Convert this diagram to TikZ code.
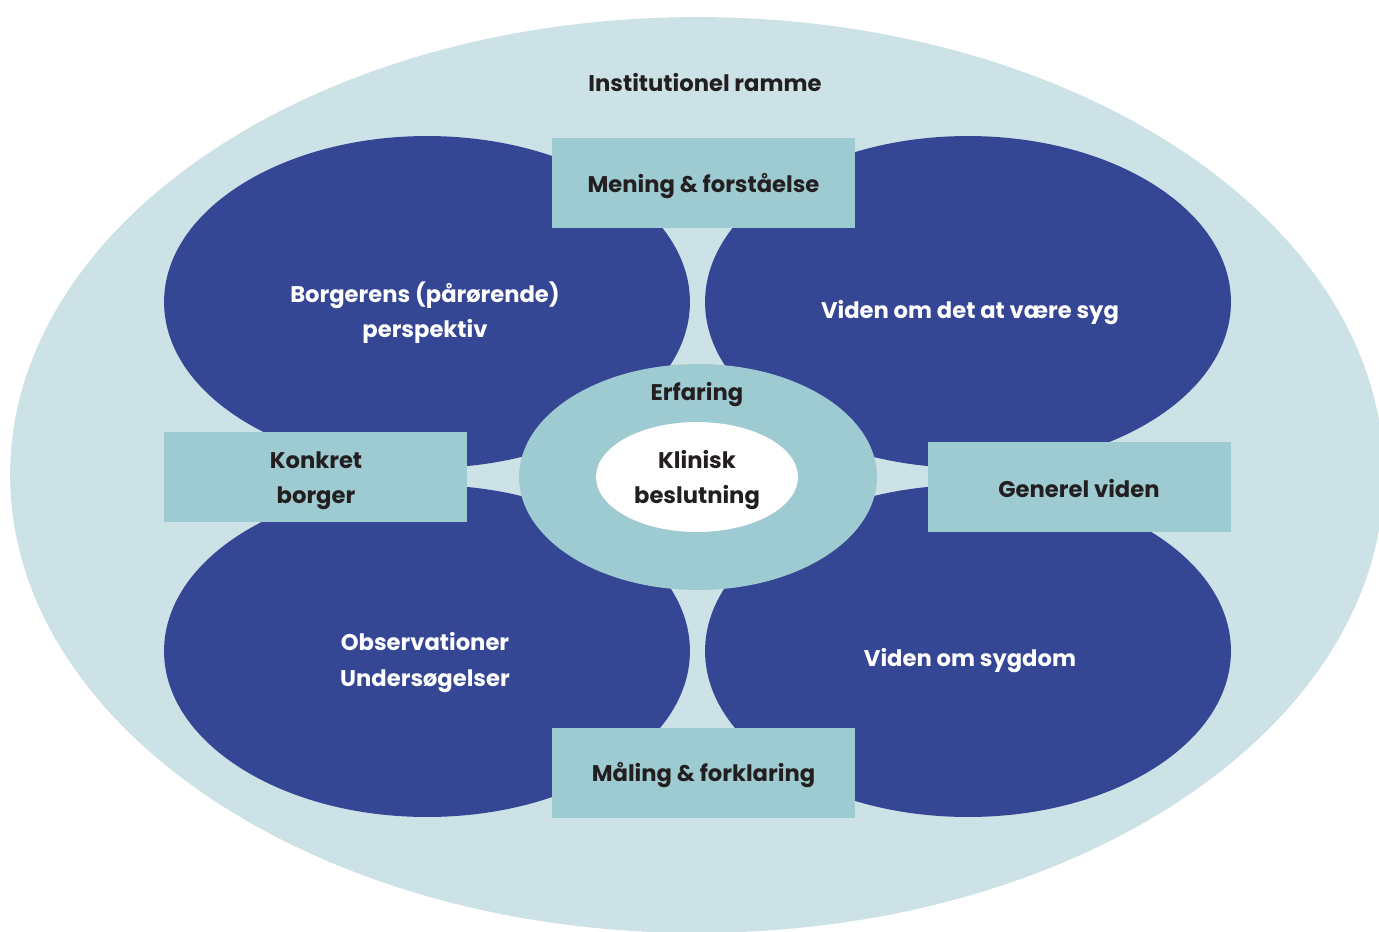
\documentclass[tikz,border=0pt]{standalone}
\usepackage{fontspec}
\setmainfont{Poppins}
\usetikzlibrary{shapes.geometric}
\definecolor{bgpale}{HTML}{CDE2E6}
\definecolor{tealbox}{HTML}{9ECAD1}
\definecolor{navy}{HTML}{344694}
\definecolor{ink}{HTML}{231F20}
\tikzset{
  txt/.style={font=\fontsize{12.9}{20}\selectfont\bfseries, align=center, inner sep=0pt},
  darktxt/.style={txt, text=ink},
  lighttxt/.style={txt, text=white},
  blob/.style={ellipse, fill=navy, minimum width=10.52cm, minimum height=6.64cm, inner sep=0pt},
  labelbox/.style={rectangle, fill=tealbox, minimum width=6.06cm, minimum height=1.8cm, inner sep=0pt},
}
\begin{document}
\begin{tikzpicture}[x=0.02cm, y=-0.02cm]
\useasboundingbox (0,0) rectangle (1379,931);
\clip (0,0) rectangle (1379,931);
\node[ellipse, fill=bgpale, minimum width=27.48cm, minimum height=18.32cm, inner sep=0pt] (frame) at (697,475) {};
\node[darktxt] (framelbl) at (705,82.5) {Institutionel ramme};

\node[blob] (tl) at (427,302) {};
\node[blob] (tr) at (968,302) {};
\node[blob] (bl) at (427,651) {};
\node[blob] (br) at (968,651) {};

\node[lighttxt] (tltxt) at (425,313) {Borgerens (pårørende)\\perspektiv};
\node[lighttxt] (trtxt) at (970,313) {Viden om det at være syg};
\node[lighttxt] (bltxt) at (425,662.5) {Observationer\\Undersøgelser};
\node[lighttxt] (brtxt) at (970,661) {Viden om sygdom};

\node[ellipse, fill=tealbox, minimum width=7.16cm, minimum height=4.52cm, inner sep=0pt] (ring) at (698,477) {};
\node[ellipse, fill=white, minimum width=4.04cm, minimum height=2.2cm, inner sep=0pt] (core) at (697,477) {};
\node[darktxt] (ringtxt) at (697,394.5) {Erfaring};
\node[darktxt] (coretxt) at (697,480) {Klinisk\\beslutning};

\node[labelbox] (top) at (703.5,183) {};
\node[darktxt] (toptxt) at (703.5,186) {Mening \& forståelse};
\node[labelbox] (bottom) at (703.5,772.5) {};
\node[darktxt] (bottomtxt) at (703.5,775) {Måling \& forklaring};
\node[labelbox] (left) at (315.5,477) {};
\node[darktxt] (lefttxt) at (316,481) {Konkret\\borger};
\node[labelbox] (right) at (1079.5,487) {};
\node[darktxt] (righttxt) at (1079,488.5) {Generel viden};
\end{tikzpicture}
\end{document}
